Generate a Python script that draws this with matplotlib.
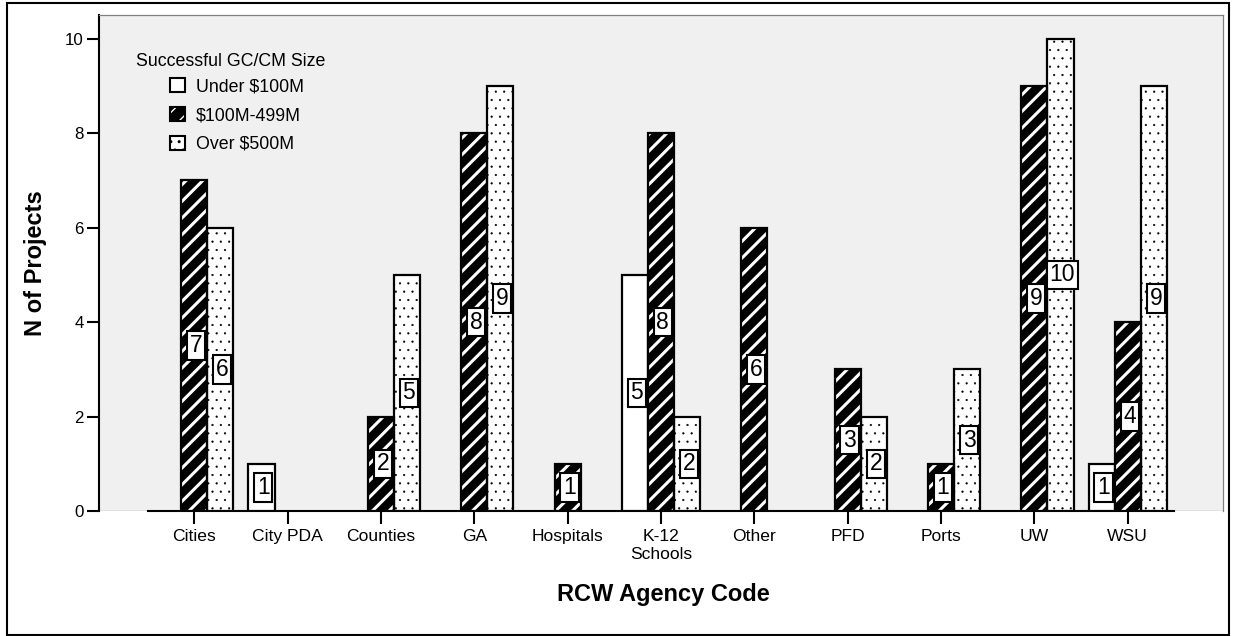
import matplotlib
matplotlib.use("Agg")
import matplotlib.pyplot as plt
import numpy as np
from matplotlib.patches import Patch, Rectangle
from matplotlib.legend_handler import HandlerTuple

plt.rcParams['font.family'] = ['Liberation Sans', 'DejaVu Sans']

# --- data ---
agencies = ["Cities", "City PDA", "Counties", "GA", "Hospitals", "K-12\nSchools",
            "Other", "PFD", "Ports", "UW", "WSU"]
under_100m = [0, 1, 0, 0, 0, 5, 0, 0, 0, 0, 1]
mid_100_499m = [7, 0, 2, 8, 1, 8, 6, 3, 1, 9, 4]
over_500m = [6, 0, 5, 9, 0, 2, 0, 2, 3, 10, 9]
series_names = ["Under $100M", "$100M-499M", "Over $500M"]
legend_title = "Successful GC/CM Size"
yticks = [0, 2, 4, 6, 8, 10]

W, H = 1233, 636
fig = plt.figure(figsize=(W / 100, H / 100), dpi=100)
fig.patch.set_facecolor('white')

# plot area in pixel terms of the reference
ax = fig.add_axes([99 / W, 1 - 511 / H, (1223 - 99) / W, (511 - 15) / H])
ax.set_facecolor('#f0f0f0')

x = np.arange(len(agencies))
bw = 0.28


def set_hlw(patch, lw):
    if hasattr(patch, 'set_hatch_linewidth'):
        patch.set_hatch_linewidth(lw)


def draw_bars(offset, vals, kind):
    xs = x + offset
    vals = np.array(vals)
    keep = vals > 0
    xs, vals = xs[keep], vals[keep]
    if kind == 'under':
        ax.bar(xs, vals, bw, color='white', edgecolor='black', linewidth=1.6, zorder=3)
    elif kind == 'mid':
        with plt.rc_context({'hatch.linewidth': 2.2}):
            bars = ax.bar(xs, vals, bw, color='black', edgecolor='white', hatch='//',
                          linewidth=0, zorder=3)
        for b in bars:
            set_hlw(b, 2.2)
        ax.bar(xs, vals, bw, fill=False, edgecolor='black', linewidth=1.6, zorder=4)
    else:
        with plt.rc_context({'hatch.linewidth': 0.35}):
            bars = ax.bar(xs, vals, bw, color='white', edgecolor='black', hatch='..',
                          linewidth=1.6, zorder=3)
        for b in bars:
            set_hlw(b, 0.35)
    # value boxes in the middle of each bar
    for xi, v in zip(xs, vals):
        ax.text(xi + 0.02, v / 2, f"{v}", ha='center', va='center', fontsize=16.5,
                zorder=6,
                bbox=dict(boxstyle='square,pad=0.12', facecolor='white',
                          edgecolor='black', linewidth=1.5))


draw_bars(-bw, under_100m, 'under')
draw_bars(0, mid_100_499m, 'mid')
draw_bars(bw, over_500m, 'over')

ax.set_xlim(-1.02, 11.02)
ax.set_ylim(0, 10.5)
ax.set_yticks(yticks)
ax.set_xticks(x)
ax.set_xticklabels(agencies, fontsize=12.6, linespacing=1.25)
ax.tick_params(axis='y', direction='out', length=9, width=1.5, labelsize=12.2, pad=2)
ax.tick_params(axis='x', direction='out', length=9, width=1.5, pad=4)

for s in ['top', 'right']:
    ax.spines[s].set_color('#808080')
    ax.spines[s].set_linewidth(0.9)
ax.spines['left'].set_linewidth(1.5)
ax.spines['left'].set_color('black')
ax.spines['bottom'].set_linewidth(1.5)
ax.spines['bottom'].set_color('black')
ax.spines['bottom'].set_bounds(-0.5, 10.5)
ax.axhline(0, color='#808080', linewidth=0.9, zorder=2)

# legend: title as plain text, entries indented below it
ax.text(0.033, 0.907, legend_title, transform=ax.transAxes, ha='left', va='center',
        fontsize=12.8)
h_under = Patch(facecolor='white', edgecolor='black', linewidth=1.5)
h_mid_fill = Patch(facecolor='black', edgecolor='white', hatch='//', linewidth=0)
h_mid_edge = Patch(fill=False, edgecolor='black', linewidth=1.5)
h_over = Patch(facecolor='white', edgecolor='black', hatch='..', linewidth=1.5)
leg = ax.legend([h_under, (h_mid_fill, h_mid_edge), h_over], series_names,
                handler_map={tuple: HandlerTuple(ndivide=1)},
                loc='upper left', bbox_to_anchor=(0.063, 0.873), frameon=False,
                fontsize=12.8, handlelength=0.85, handleheight=0.85,
                handletextpad=0.62, labelspacing=0.65, borderpad=0, borderaxespad=0)

fig.text(663 / W, 1 - 595 / H, "RCW Agency Code", ha='center', va='center',
         fontsize=17, fontweight='bold')
fig.text(36 / W, 1 - 263 / H, "N of Projects", ha='center', va='center',
         rotation=90, fontsize=17, fontweight='bold')

# outer frame round the whole chart
fig.add_artist(Rectangle((7 / W, 1 - 635 / H), (1229 - 7) / W, (635 - 3) / H,
                         transform=fig.transFigure, fill=False, edgecolor='black',
                         linewidth=1.5))

fig.savefig("out.png", dpi=100)
